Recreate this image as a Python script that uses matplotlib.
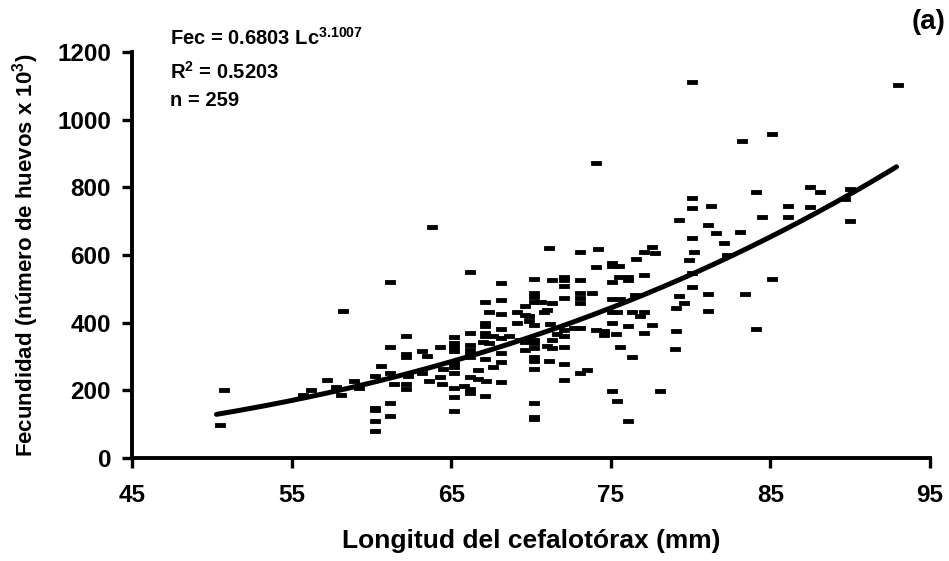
import numpy as np
import matplotlib
matplotlib.use("Agg")
import matplotlib.pyplot as plt
from matplotlib.path import Path

plt.rcParams['font.family'] = ['Liberation Sans', 'DejaVu Sans']
plt.rcParams['font.weight'] = 'bold'
plt.rcParams['mathtext.fontset'] = 'custom'
plt.rcParams['mathtext.default'] = 'bf'
plt.rcParams['mathtext.bf'] = 'Liberation Sans:bold'
plt.rcParams['mathtext.rm'] = 'Liberation Sans:bold'

# longitud del cefalotorax (mm) y fecundidad (x 10^3)
lc = [50.8, 50.5, 55.7, 56.2,
      63.8, 61.2, 58.2, 62.2, 61.2, 63.2, 63.5, 64.3, 62.2, 62.2,
      60.6, 60.2, 61.2, 62.3, 63.2, 61.4, 62.2, 62.2, 63.6, 64.3, 64.5, 64.4,
      57.2, 57.8, 58.1, 58.9, 59.2, 60.2, 60.2, 60.2, 60.2, 61.2, 61.2,
      65.2, 65.2, 65.2, 65.2, 65.2, 65.2, 65.2, 65.2, 65.2, 65.2,
      74.1, 71.1, 73.1, 74.2, 74.1, 66.2, 70.2, 71.3, 72.1, 72.1, 72.1, 73.1,
      68.1, 70.2, 70.2, 73.1, 73.1, 73.8, 72.1, 67.1, 68.1, 70.6, 71.3, 73.1,
      70.2, 69.6, 67.4, 69.1, 71.0, 68.1, 69.6, 69.9, 70.8, 67.1, 67.1, 69.1,
      69.9, 70.2, 71.2, 68.1, 72.1, 72.1, 71.6, 72.7, 73.1, 74.1, 66.2, 67.1,
      67.1, 67.6, 68.1, 68.6, 66.2, 66.2, 67.0, 67.4, 69.3, 69.6, 70.2, 70.2,
      70.2, 69.6, 71.0, 71.3, 71.3, 72.1, 66.2, 66.2, 68.1, 67.1, 68.1, 67.6,
      70.2, 70.2, 70.2, 71.1, 72.1, 73.5, 73.1, 72.1, 66.2, 66.2, 66.2, 66.7,
      66.7, 67.2, 68.1, 65.8, 67.1, 70.2, 70.2, 70.2,
      83.2, 85.1, 80.1, 93.0, 84.1, 80.1, 80.1, 81.3, 84.5, 79.3, 81.1, 81.6,
      83.1, 80.1, 82.1, 77.6, 77.1, 77.8, 80.2, 82.3, 76.6, 79.9, 75.1, 75.1,
      75.5, 77.1, 76.1, 76.1, 75.5, 75.1, 80.1, 80.1, 85.1, 76.5, 75.1, 75.6,
      79.3, 81.1, 83.4, 79.6, 79.1, 81.1, 75.1, 75.4, 76.3, 77.1, 76.8, 75.1,
      76.1, 77.6, 74.6, 74.6, 75.3, 77.1, 79.1, 84.1, 75.6, 76.3, 79.0, 75.1,
      78.1, 75.4, 76.1,
      87.5, 88.1, 90.0, 89.7, 86.1, 87.5, 86.1, 90.0]
fec = [201, 97, 186, 201,
       682, 521, 433, 361, 329, 317, 301, 329, 307, 298,
       273, 242, 252, 243, 252, 218, 219, 204, 228, 240, 263, 219,
       230, 209, 186, 228, 206, 147, 140, 109, 78, 163, 124,
       356, 341, 329, 316, 280, 268, 250, 206, 181, 137,
       873, 622, 608, 618, 564, 551, 529, 526, 534, 526, 509, 526,
       516, 487, 477, 487, 472, 487, 472, 462, 467, 462, 457, 459,
       462, 449, 431, 431, 437, 425, 421, 418, 432, 400, 390, 400,
       406, 393, 396, 381, 378, 361, 366, 383, 383, 378, 370, 370,
       359, 359, 354, 361, 334, 319, 344, 341, 347, 344, 349, 339,
       324, 319, 331, 326, 347, 329, 307, 299, 311, 292, 282, 270,
       299, 285, 262, 285, 278, 260, 250, 229, 240, 203, 193, 260,
       233, 228, 223, 211, 183, 162, 122, 116,
       938, 958, 1112, 1103, 787, 769, 738, 745, 711, 702, 688, 664,
       669, 649, 636, 623, 610, 607, 610, 600, 588, 585, 575, 568,
       568, 541, 534, 526, 534, 521, 546, 505, 529, 482, 470, 470,
       479, 484, 484, 457, 444, 435, 431, 431, 432, 432, 418, 400,
       390, 393, 376, 363, 366, 370, 375, 382, 329, 299, 322, 198,
       198, 169, 110,
       802, 785, 794, 766, 745, 741, 713, 700]

# modelo potencial ajustado: Fec = a * Lc^b (x 10^3)
a = 0.6803
b = 3.1007
lc_min, lc_max = 50.3, 92.9

# marcador tipo guion (como Excel)
dash = Path([(-1, -0.42), (1, -0.42), (1, 0.42), (-1, 0.42), (-1, -0.42)],
            [Path.MOVETO, Path.LINETO, Path.LINETO, Path.LINETO, Path.CLOSEPOLY])

fig = plt.figure(figsize=(9.49, 5.61), dpi=100)
ax = fig.add_axes([0.139, 0.184, 0.841, 0.723])

ax.plot(lc, fec, linestyle='none', marker=dash, markersize=6.5,
        color='black', markeredgewidth=0.6)

xs = np.linspace(lc_min, lc_max, 200)
ax.plot(xs, a * xs ** b / 1000.0, color='black', linewidth=3.6,
        solid_capstyle='round')

ax.set_xlim(45, 95)
ax.set_ylim(0, 1200)
ax.set_xticks([45, 55, 65, 75, 85, 95])
ax.set_yticks([0, 200, 400, 600, 800, 1000, 1200])
for s in ['top', 'right']:
    ax.spines[s].set_visible(False)
for s in ['left', 'bottom']:
    ax.spines[s].set_linewidth(2.8)
ax.tick_params(direction='out', length=7, width=2.4, labelsize=17.5)
ax.tick_params(axis='x', pad=12)
ax.tick_params(axis='y', pad=8)
for lab in ax.get_xticklabels() + ax.get_yticklabels():
    lab.set_fontweight('bold')

ax.set_xlabel('Longitud del cefalotórax (mm)', fontsize=19, fontweight='bold',
              labelpad=16)
ax.set_ylabel('Fecundidad (número de huevos x 10$^{3}$)', fontsize=16,
              fontweight='bold', labelpad=12)

fig.text(0.179, 0.932, 'Fec = 0.6803 Lc$^{3.1007}$', fontsize=14.5,
         fontweight='bold', va='center')
fig.text(0.179, 0.872, 'R$^{2}$ = 0.5203', fontsize=14.5, fontweight='bold',
         va='center')
fig.text(0.179, 0.821, 'n = 259', fontsize=14.5, fontweight='bold', va='center')
fig.text(0.996, 0.960, '(a)', fontsize=20, fontweight='bold', ha='right',
         va='center')

fig.savefig('out.png', dpi=100)
